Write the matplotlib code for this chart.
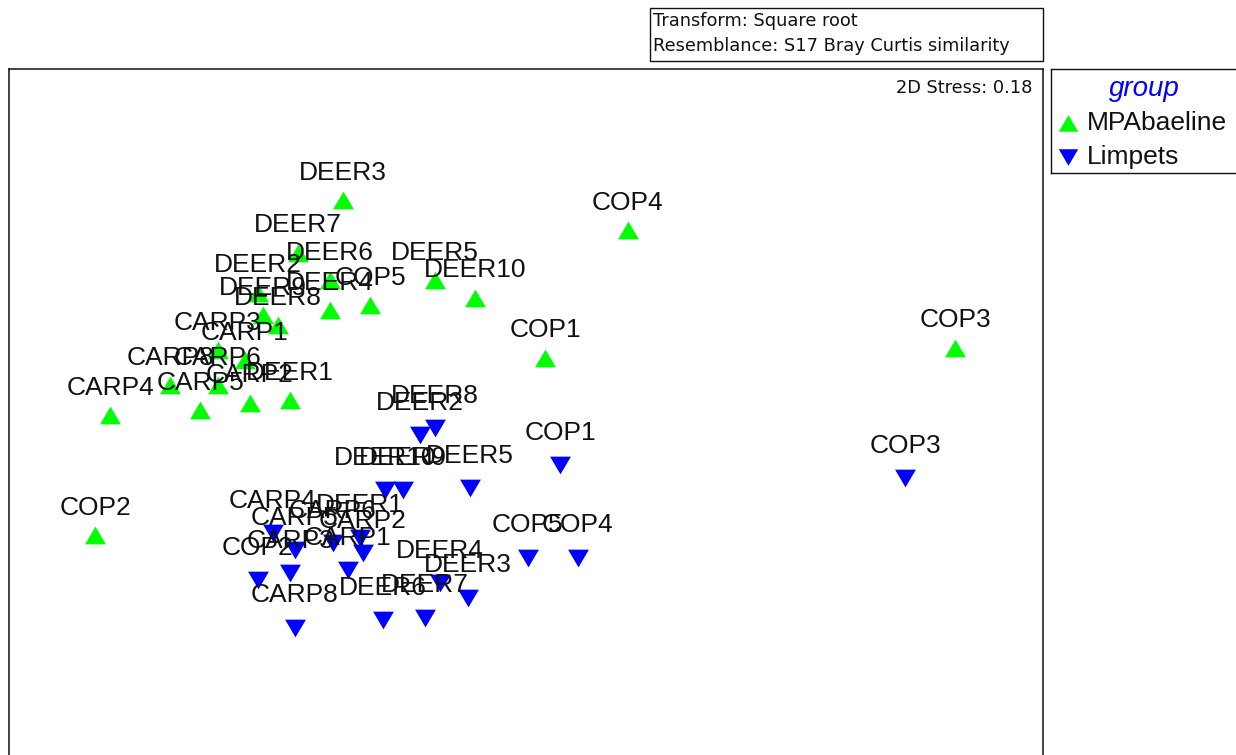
import numpy as np
import matplotlib
matplotlib.use("Agg")
import matplotlib.pyplot as plt
from matplotlib.patches import Rectangle
from matplotlib.path import Path

plt.rcParams['font.family'] = ['Liberation Sans', 'DejaVu Sans']

# nMDS ordination coordinates (square-root transform, Bray-Curtis)
base_names = ["DEER1", "DEER2", "DEER3", "DEER4", "DEER5", "DEER6", "DEER7", "DEER8", "DEER9", "DEER10",
              "CARP1", "CARP2", "CARP3", "CARP4", "CARP5", "CARP6", "CARP8",
              "COP1", "COP2", "COP3", "COP4", "COP5"]
base_x = [-0.92, -1.05, -0.71, -0.76, -0.34, -0.76, -0.89, -0.97, -1.03, -0.18,
          -1.10, -1.08, -1.21, -1.64, -1.28, -1.21, -1.40,
          0.10, -1.70, 1.74, 0.43, -0.60]
base_y = [0.00, 0.43, 0.80, 0.36, 0.48, 0.48, 0.59, 0.30, 0.34, 0.41,
          0.16, -0.01, 0.20, -0.06, -0.04, 0.06, 0.06,
          0.17, -0.54, 0.21, 0.68, 0.38]

limp_names = ["DEER1", "DEER2", "DEER3", "DEER4", "DEER5", "DEER6", "DEER7", "DEER8", "DEER9", "DEER10",
              "CARP1", "CARP2", "CARP3", "CARP4", "CARP5", "CARP6", "CARP8",
              "COP1", "COP2", "COP3", "COP4", "COP5"]
limp_x = [-0.64, -0.40, -0.21, -0.32, -0.20, -0.55, -0.38, -0.34, -0.47, -0.54,
          -0.69, -0.63, -0.92, -0.99, -0.90, -0.75, -0.90,
          0.16, -1.05, 1.54, 0.23, 0.03]
limp_y = [-0.55, -0.14, -0.79, -0.73, -0.35, -0.88, -0.87, -0.11, -0.36, -0.36,
          -0.68, -0.61, -0.69, -0.53, -0.60, -0.57, -0.91,
          -0.26, -0.72, -0.31, -0.63, -0.63]

stress = 0.18

up_tri = Path([(-1, -0.85), (1, -0.85), (0, 0.85), (-1, -0.85)], closed=True)
dn_tri = Path([(-1, 0.85), (1, 0.85), (0, -0.85), (-1, 0.85)], closed=True)
GREEN = "#00ff00"
BLUE = "#0000ff"
SMALL = dict(family=["DejaVu Sans"], fontsize=12.8, color="#111111")

W, H = 1236, 755
fig = plt.figure(figsize=(W / 100, H / 100), dpi=100)

# main plot frame, bottom edge runs off the page
ax = fig.add_axes([9 / W, 1 - 800 / H, 1034 / W, 731 / H])
ax.set_xlim(-2.044, 2.092)
ax.set_ylim(-1.6, 1.324)
ax.set_xticks([])
ax.set_yticks([])
for s in ax.spines.values():
    s.set_linewidth(1.1)
    s.set_color("#111111")

ax.scatter(base_x, base_y, marker=up_tri, s=15 ** 2, color=GREEN, linewidths=0, zorder=2)
ax.scatter(limp_x, limp_y, marker=dn_tri, s=15 ** 2, color=BLUE, linewidths=0, zorder=2)

for n, x, y in zip(base_names, base_x, base_y):
    ax.annotate(n, (x, y), xytext=(0, 14.5), textcoords="offset points",
                ha="center", va="baseline", fontsize=19, color="#111111", zorder=3)
for n, x, y in zip(limp_names, limp_x, limp_y):
    ax.annotate(n, (x, y), xytext=(0, 18), textcoords="offset points",
                ha="center", va="baseline", fontsize=19, color="#111111", zorder=3)

ax.text(0.9895, 0.974, f"2D Stress: {stress:.2f}", transform=ax.transAxes,
        ha="right", va="center", **SMALL)

# info box above the plot
fig.patches.append(Rectangle((650 / W, 1 - 61 / H), 393 / W, 53 / H, transform=fig.transFigure,
                             fill=False, edgecolor="#111111", linewidth=1.0))
fig.text(653 / W, 1 - 21 / H, "Transform: Square root", ha="left", va="center", **SMALL)
fig.text(653 / W, 1 - 46 / H, "Resemblance: S17 Bray Curtis similarity", ha="left", va="center",
         **SMALL)

# legend box
lg = fig.add_axes([1051 / W, 1 - 173 / H, 200 / W, 104 / H])
lg.set_xlim(0, 200)
lg.set_ylim(104, 0)
lg.set_xticks([])
lg.set_yticks([])
for s in lg.spines.values():
    s.set_linewidth(1.0)
    s.set_color("#111111")
lg.text(93, 20, "group", ha="center", va="center", fontsize=20, style="italic", color=BLUE)
lg.scatter([17], [54], marker=up_tri, s=14 ** 2, color=GREEN, linewidths=0)
lg.scatter([17], [88], marker=dn_tri, s=14 ** 2, color=BLUE, linewidths=0)
lg.text(36, 54, "MPAbaeline", ha="left", va="center", fontsize=19, color="#111111")
lg.text(36, 88, "Limpets", ha="left", va="center", fontsize=19, color="#111111")

fig.savefig("out.png", dpi=100)
